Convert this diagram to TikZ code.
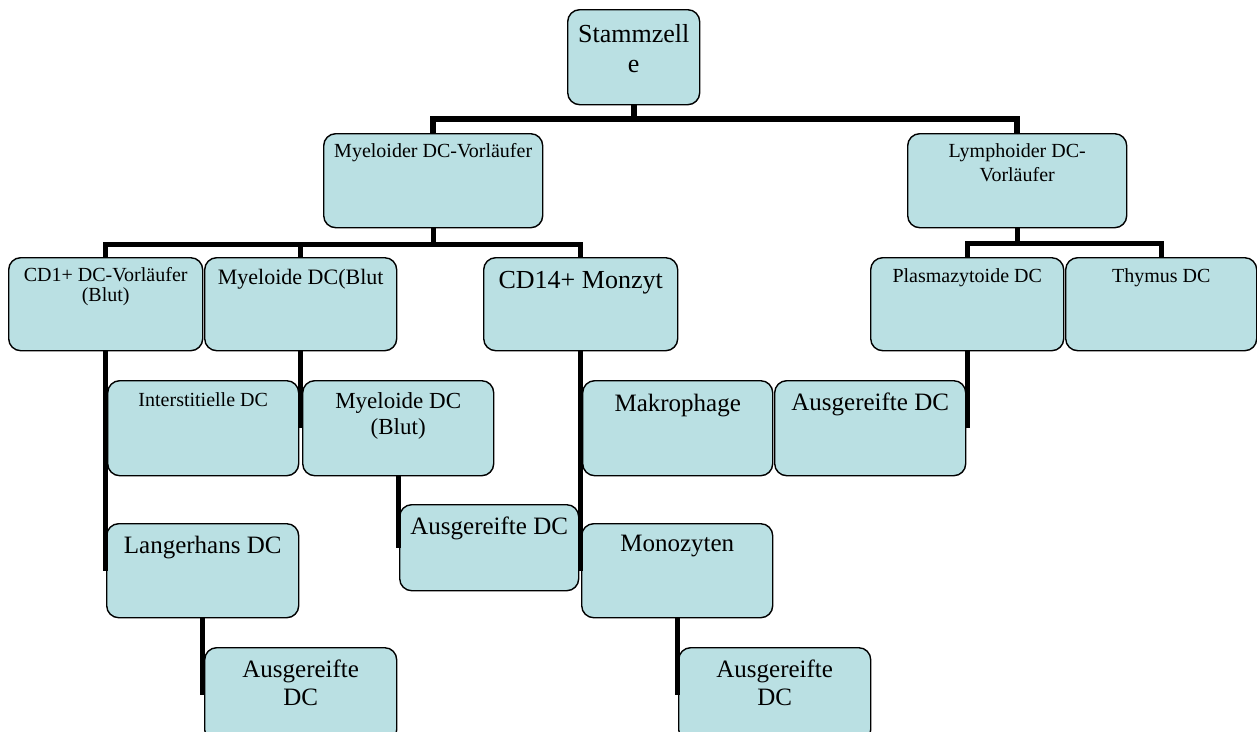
\documentclass[tikz,border=0pt]{standalone}
\usepackage{fontspec}
\setmainfont{Liberation Serif}
\definecolor{cellblue}{RGB}{186,224,227}
\newcommand{\fsize}[2]{\fontsize{#1}{#2}\selectfont}

\begin{document}
\begin{tikzpicture}[x=1pt,y=-1pt,
  box/.style={draw=black, line width=1.4pt, rounded corners=12pt,
    fill=cellblue, anchor=north west, inner sep=0pt},
  lbl/.style={anchor=north, inner sep=0pt, align=center, text=black},
  conn/.style={line width=5pt, black},
  bus/.style={line width=6pt, black}]

  \useasboundingbox (0,0) rectangle (1257,731);
  \clip (0,0) rectangle (1257,731);

  % level 0 and 1
  \node[box, minimum width=132, minimum height=95] (stamm) at (567,9) {};
  \node[box, minimum width=219, minimum height=94] (myel)  at (323,133) {};
  \node[box, minimum width=219, minimum height=94] (lymph) at (907,133) {};

  % level 2
  \node[box, minimum width=194, minimum height=93] (cd1)    at (8,257) {};
  \node[box, minimum width=192, minimum height=93] (mdcb)   at (204,257) {};
  \node[box, minimum width=194, minimum height=93] (cd14)   at (483,257) {};
  \node[box, minimum width=193, minimum height=93] (plasma) at (870,257) {};
  \node[box, minimum width=191, minimum height=93] (thymus) at (1065,257) {};

  % level 3
  \node[box, minimum width=191, minimum height=95] (inter) at (107,380) {};
  \node[box, minimum width=191, minimum height=95] (mdcbb) at (302,380) {};
  \node[box, minimum width=190, minimum height=95] (makro) at (582,380) {};
  \node[box, minimum width=191, minimum height=95] (ausgA) at (774,380) {};
  \node[box, minimum width=179, minimum height=86] (ausgB) at (399,504) {};
  \node[box, minimum width=192, minimum height=94] (langer) at (106,523) {};
  \node[box, minimum width=191, minimum height=94] (mono)  at (581,523) {};
  \node[box, minimum width=192, minimum height=94] (ausgC) at (204,647) {};
  \node[box, minimum width=192, minimum height=94] (ausgD) at (678,647) {};

  % texts
  \node[lbl, font=\fsize{26}{30}] (stamm-t) at ([yshift=-15pt]stamm.north) {Stammzell\\e};
  \node[lbl, font=\fsize{20}{23}] (myel-t) at ([yshift=-10pt]myel.north) {Myeloider DC-Vorläufer};
  \node[lbl, font=\fsize{20}{24}] (lymph-t) at ([yshift=-10pt]lymph.north) {Lymphoider DC-\\Vorläufer};
  \node[lbl, font=\fsize{20}{20}] (cd1-t) at ([yshift=-10pt]cd1.north) {CD1+ DC-Vorläufer\\(Blut)};
  \node[lbl, font=\fsize{22}{25}] (mdcb-t) at ([yshift=-12pt]mdcb.north) {Myeloide DC(Blut};
  \node[lbl, font=\fsize{26}{30}] (cd14-t) at ([yshift=-14pt]cd14.north) {CD14+ Monzyt};
  \node[lbl, font=\fsize{20}{23}] (plasma-t) at ([yshift=-11pt]plasma.north) {Plasmazytoide DC};
  \node[lbl, font=\fsize{20}{23}] (thymus-t) at ([yshift=-11pt]thymus.north) {Thymus DC};
  \node[lbl, font=\fsize{20}{23}] (inter-t) at ([yshift=-12pt]inter.north) {Interstitielle DC};
  \node[lbl, font=\fsize{23}{26}] (mdcbb-t) at ([yshift=-12pt]mdcbb.north) {Myeloide DC\\(Blut)};
  \node[lbl, font=\fsize{25}{28}] (makro-t) at ([yshift=-14pt]makro.north) {Makrophage};
  \node[lbl, font=\fsize{25}{28}] (ausgA-t) at ([yshift=-13pt]ausgA.north) {Ausgereifte DC};
  \node[lbl, font=\fsize{25}{28}] (ausgB-t) at ([yshift=-13pt]ausgB.north) {Ausgereifte DC};
  \node[lbl, font=\fsize{25}{28}] (langer-t) at ([yshift=-13pt]langer.north) {Langerhans DC};
  \node[lbl, font=\fsize{25}{28}] (mono-t) at ([yshift=-12pt]mono.north) {Monozyten};
  \node[lbl, font=\fsize{25}{28}] (ausgC-t) at ([yshift=-13pt]ausgC.north) {Ausgereifte\\DC};
  \node[lbl, font=\fsize{25}{28}] (ausgD-t) at ([yshift=-13pt]ausgD.north) {Ausgereifte\\DC};

  % tree connectors
  \draw[bus] (stamm.south) -- ++(0,14) -| (myel.north);
  \draw[bus] (stamm.south) -- ++(0,14) -| (lymph.north);
  \foreach \c in {cd1,mdcb,cd14}
  \draw[conn] (myel.south) -- ++(0,16) -| (\c.north);
  \foreach \c in {plasma,thymus}
  \draw[conn] (lymph.south) -- ++(0,15) -| (\c.north);

  % side connectors
  \draw[conn] (cd1.south) -- (cd1.south |- langer.west);
  \draw[conn] (mdcb.south) -- (mdcb.south |- mdcbb.west);
  \draw[conn] (cd14.south) -- (cd14.south |- mono.west);
  \draw[conn] (plasma.south) -- (plasma.south |- ausgA.east);
  \draw[conn] (mdcbb.south) -- (mdcbb.south |- ausgB.west);
  \draw[conn] (langer.south) -- (langer.south |- ausgC.west);
  \draw[conn] (mono.south) -- (mono.south |- ausgD.west);

\end{tikzpicture}
\end{document}
